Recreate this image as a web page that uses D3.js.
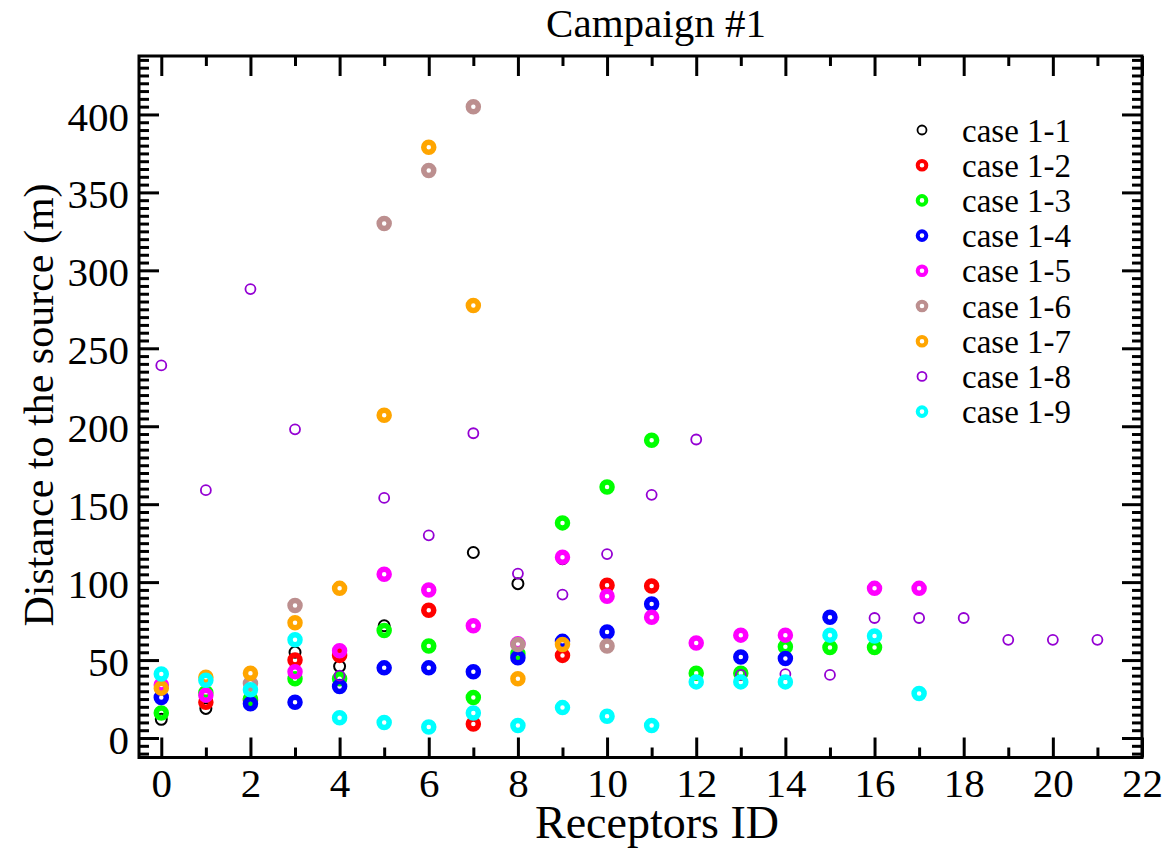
<!DOCTYPE html>
<html>
<head>
<meta charset="utf-8">
<script src="https://cdn.jsdelivr.net/npm/d3@7"></script>
<style>
  html, body { margin: 0; padding: 0; background: #fff; }
  svg { display: block; }
  text { font-family: "Liberation Serif", "Times New Roman", serif; fill: #000; }
</style>
</head>
<body>
<div id="chart"></div>
<script>
// receptor ids on the x axis
const receptorIds = [0, 1, 2, 3, 4, 5, 6, 7, 8, 9, 10, 11, 12, 13, 14, 15, 16, 17, 18, 19, 20, 21];

// distance to the source (m) per receptor, null = no point
const case11 = [12, 19, null, 55, 46, 72, null, 119, 99, 115, null, null, null, null, null, null, null, null, null, null, null, null];
const case12 = [null, 23, 24, 50, 53, null, 82, 9, null, 53, 98, 97.5, null, null, null, null, null, null, null, null, null, null];
const case13 = [16, 29, 25, 38, 38, 69, 59, 26, 54, 138, 161, 191, 41.5, 41.5, 58.5, 58, 58, null, null, null, null, null];
const case14 = [26, null, 22, 23, 33, 45, 45, 42.5, 51.5, 62, 68, 86, null, 52, 51, 77.5, null, null, null, null, null, null];
const case15 = [34, 27.5, null, 42.5, 56, 105, 95, 72, 60.5, 116, 91, 77.5, 61, 66, 66, null, 96, 96, null, null, null, null];
const case16 = [null, null, 35, 85, null, 330, 364, 405, 60, null, 59, null, null, null, null, null, null, null, null, null, null, null];
const case17 = [32, 39, 41.5, 74, 96, 207, 379, 277.5, 38, 60, null, null, null, null, null, null, null, null, null, null, null, null];
const case18 = [239, 159, 288, 198, 40, 154, 130, 195.5, 105.5, 92, 118, 156, 191.5, 40.5, 41, 40.5, 77, 77, 77, 63, 63, 63];
const case19 = [41, 37, 31, 63, 13, 10, 7, 16, 8, 19.5, 14, 8, 36, 36, 36, 66, 65.5, 28.5, null, null, null, null];

const seriesNames = ["case 1-1", "case 1-2", "case 1-3", "case 1-4", "case 1-5", "case 1-6", "case 1-7", "case 1-8", "case 1-9"];
const seriesValues = [case11, case12, case13, case14, case15, case16, case17, case18, case19];

const xTickLabels = [0, 2, 4, 6, 8, 10, 12, 14, 16, 18, 20, 22];
const yTickLabels = [0, 50, 100, 150, 200, 250, 300, 350, 400];

// grace style colours / marker looks
const colors = ["#000000", "#ff0000", "#00ff00", "#0000ff", "#ff00ff", "#bc8f8f", "#ffa500", "#9400d3", "#00ffff"];
const thin = { r: 5.5, w: 2 };
const thick = { r: 5, w: 5.5 };
const markerStyle = [thin, thick, thick, thick, thick, thick, thick, { r: 5, w: 1.8 }, thick];

const width = 1167, height = 848;
const frame = { left: 139, right: 1142, top: 56, bottom: 757.5 };

const svg = d3.select("#chart").append("svg")
  .attr("width", width)
  .attr("height", height);

const x = d3.scaleLinear().domain([-0.5, 22]).range([frame.left, frame.right]);
const y = d3.scaleLinear().domain([-12.5, 437.5]).range([frame.bottom, frame.top]);

const tickFont = 41;

// minor ticks (no labels)
const xMinor = [1, 3, 5, 7, 9, 11, 13, 15, 17, 19, 21];
const yMinor = d3.range(-10, 437, 5).filter(v => v % 50 !== 0);

function styleAxis(g) {
  g.select(".domain").remove();
  g.selectAll(".tick line").attr("stroke", "#000").attr("stroke-width", 3);
}

// bottom
svg.append("g")
  .attr("transform", `translate(0,${frame.bottom})`)
  .call(d3.axisBottom(x).tickValues(xTickLabels).tickSize(-20).tickPadding(10).tickFormat(d3.format("d")))
  .call(styleAxis)
  .call(g => g.selectAll("text").attr("font-size", tickFont).attr("font-family", null));
svg.append("g")
  .attr("transform", `translate(0,${frame.bottom})`)
  .call(d3.axisBottom(x).tickValues(xMinor).tickSize(-10).tickFormat(""))
  .call(styleAxis);

// top
svg.append("g")
  .attr("transform", `translate(0,${frame.top})`)
  .call(d3.axisTop(x).tickValues(xTickLabels).tickSize(-20).tickFormat(""))
  .call(styleAxis);
svg.append("g")
  .attr("transform", `translate(0,${frame.top})`)
  .call(d3.axisTop(x).tickValues(xMinor).tickSize(-10).tickFormat(""))
  .call(styleAxis);

// left
svg.append("g")
  .attr("transform", `translate(${frame.left},0)`)
  .call(d3.axisLeft(y).tickValues(yTickLabels).tickSize(-20).tickPadding(10).tickFormat(d3.format("d")))
  .call(styleAxis)
  .call(g => g.selectAll("text").attr("font-size", tickFont).attr("font-family", null).attr("dy", "0.38em"));
svg.append("g")
  .attr("transform", `translate(${frame.left},0)`)
  .call(d3.axisLeft(y).tickValues(yMinor).tickSize(-10).tickFormat(""))
  .call(styleAxis);

// right
svg.append("g")
  .attr("transform", `translate(${frame.right},0)`)
  .call(d3.axisRight(y).tickValues(yTickLabels).tickSize(-20).tickFormat(""))
  .call(styleAxis);
svg.append("g")
  .attr("transform", `translate(${frame.right},0)`)
  .call(d3.axisRight(y).tickValues(yMinor).tickSize(-10).tickFormat(""))
  .call(styleAxis);

// frame
svg.append("rect")
  .attr("x", frame.left)
  .attr("y", frame.top)
  .attr("width", frame.right - frame.left)
  .attr("height", frame.bottom - frame.top)
  .attr("fill", "none")
  .attr("stroke", "#000")
  .attr("stroke-width", 3);

// points, drawn series by series so later ones sit on top
seriesValues.forEach((vals, i) => {
  const pts = receptorIds
    .map((id, k) => ({ id, v: vals[k] }))
    .filter(d => d.v !== null);
  svg.append("g")
    .attr("class", "series-" + i)
    .selectAll("circle")
    .data(pts)
    .join("circle")
    .attr("cx", d => x(d.id))
    .attr("cy", d => y(d.v))
    .attr("r", markerStyle[i].r)
    .attr("fill", "none")
    .attr("stroke", colors[i])
    .attr("stroke-width", markerStyle[i].w);
});

// legend
const legend = svg.append("g").attr("transform", "translate(922,130)");
const legendRows = legend.selectAll("g")
  .data(seriesNames)
  .join("g")
  .attr("transform", (d, i) => `translate(0,${i * 35.2})`);
legendRows.append("circle")
  .attr("r", (d, i) => i === 0 || i === 7 ? 4.5 : 4.3)
  .attr("fill", "none")
  .attr("stroke", (d, i) => colors[i])
  .attr("stroke-width", (d, i) => i === 0 || i === 7 ? 1.8 : 4);
legendRows.append("text")
  .attr("x", 40)
  .attr("y", 11.5)
  .attr("font-size", 33)
  .text(d => d);

// title and axis labels
svg.append("text")
  .attr("x", 656)
  .attr("y", 37)
  .attr("text-anchor", "middle")
  .attr("font-size", 41)
  .text("Campaign #1");

svg.append("text")
  .attr("x", 657)
  .attr("y", 838)
  .attr("text-anchor", "middle")
  .attr("font-size", 46)
  .text("Receptors ID");

svg.append("text")
  .attr("transform", "translate(53,405) rotate(-90)")
  .attr("text-anchor", "middle")
  .attr("font-size", 42)
  .text("Distance to the source (m)");
</script>
</body>
</html>
